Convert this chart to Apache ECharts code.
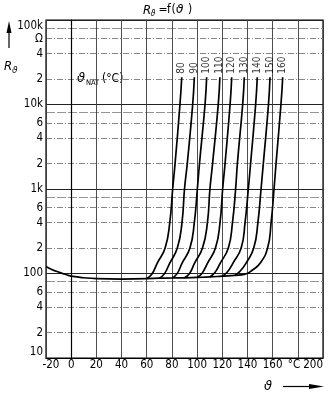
<!DOCTYPE html>
<html>
<head>
<meta charset="utf-8">
<script src="https://cdn.jsdelivr.net/npm/echarts@6/dist/echarts.min.js"></script>
<style>
  html, body { margin: 0; padding: 0; background: #fff; }
  #chart { width: 331px; height: 393px; }
</style>
</head>
<body>
<div id="chart"></div>
<script>
const FONT = "'Liberation Sans Narrow', 'DejaVu Sans Condensed', sans-serif";
const GREEK = "'DejaVu Sans', 'Noto Sans', sans-serif";

// temperature axis, °C (the 180 slot carries the unit)
const xTickValues = [-20, 0, 20, 40, 60, 80, 100, 120, 140, 160, 180, 200];
const xTickText = ['-20', '0', '20', '40', '60', '80', '100', '120', '140', '160', '', '200'];
const xUnitText = '°C';

// resistance axis, Ω (logarithmic)
const yDecadeValues = [10, 100, 1000, 10000, 100000];
const yMinorValues = [20, 40, 60, 200, 400, 600, 2000, 4000, 6000, 20000, 40000, 60000];
const yEighthValues = [80, 800, 8000, 80000];
const yLabelValues = [10, 20, 40, 60, 100, 200, 400, 600, 1000, 2000, 4000, 6000,
                      10000, 20000, 40000, 60000, 100000];
const yLabelText = ['10', '2', '4', '6', '100', '2', '4', '6', '1k', '2', '4', '6',
                    '10k', '2', '4', 'Ω', '100k'];

// shared low-temperature branch [ϑ °C, R Ω]
const baseCurve = [[-20, 121], [-15, 111], [-10, 104], [-5, 98], [0, 93], [5, 91], [10, 89],
                   [20, 87], [40, 86], [60, 87]];

// nominal switching temperatures ϑNAT, °C
const natTemps = [80, 90, 100, 110, 120, 130, 140, 150, 160];

// R(ϑ) per ϑNAT [ϑ °C, R Ω]
const curve80  = [[60, 87], [64, 98], [68.3, 132], [74.6, 200], [78.3, 400], [80.6, 1000], [82.5, 2000], [86.4, 10000], [87.8, 21000]];
const curve90  = [[70, 88], [74, 99], [78.2, 132], [84.3, 200], [88.0, 400], [90.0, 1000], [92.2, 2000], [96.5, 10000], [97.8, 21000]];
const curve100 = [[80, 88.5], [84, 99], [88.0, 132], [94.3, 200], [97.8, 400], [100.2, 1000], [101.9, 2000], [106.3, 10000], [107.6, 21000]];
const curve110 = [[90, 89], [94, 100], [97.9, 132], [104.3, 200], [108.2, 400], [110.2, 1000], [112.3, 2000], [116.8, 10000], [118.1, 21000]];
const curve120 = [[100, 90], [104, 101], [108.2, 132], [114.6, 200], [118.2, 400], [120.3, 1000], [122.2, 2000], [126.2, 10000], [127.5, 21000]];
const curve130 = [[110, 91], [114, 102], [118.3, 132], [124.8, 200], [128.1, 400], [130.6, 1000], [132.0, 2000], [136.2, 10000], [137.5, 21000]];
const curve140 = [[120, 93], [124, 104], [128.4, 132], [135.0, 200], [138.1, 400], [140.7, 1000], [142.5, 2000], [146.5, 10000], [147.8, 21000]];
const curve150 = [[130, 95], [134, 106], [138.8, 132], [145.0, 200], [148.3, 400], [150.8, 1000], [152.6, 2000], [156.7, 10000], [157.9, 21000]];
const curve160 = [[60, 87], [70, 88], [80, 88.5], [90, 89], [100, 90], [110, 91], [120, 93], [130, 95], [138, 98],
                  [144, 110], [150, 132], [156.0, 200], [158.8, 400], [161.1, 1000], [162.7, 2000], [166.6, 10000], [168.0, 21000]];

const curves = [curve80, curve90, curve100, curve110, curve120, curve130, curve140, curve150, curve160];

function yLabel(v) {
  const i = yLabelValues.findIndex(t => Math.abs(t - v) / t < 1e-4);
  return i < 0 ? '' : yLabelText[i];
}

function xLabel(v) {
  const i = xTickValues.indexOf(Math.round(v));
  if (i < 0) return '';
  return i === 0 ? '{first|' + xTickText[i] + '}' : xTickText[i];
}

const lineStyle = { color: '#000', width: 1.7 };

const series = [{
  type: 'line', data: baseCurve, showSymbol: false, smooth: 0.5,
  lineStyle, silent: true, z: 5
}];
curves.forEach((c, k) => {
  series.push({
    type: 'line', name: String(natTemps[k]), data: c, showSymbol: false,
    smooth: 0.5, lineStyle, silent: true, z: 5
  });
});
// curve captions standing on top of each curve end
series.push({
  type: 'scatter', symbol: 'circle', symbolSize: 1, silent: true, z: 6,
  itemStyle: { color: 'rgba(0,0,0,0)' },
  data: curves.map((c, k) => ({ value: c[c.length - 1], name: String(natTemps[k]) })),
  label: {
    show: true, position: 'top', distance: 3, rotate: 90,
    align: 'left', verticalAlign: 'middle',
    formatter: p => p.name, color: '#000', fontSize: 10, fontFamily: FONT
  }
});

const axisLabelBase = { color: '#000', fontSize: 11.5, fontFamily: FONT };

function gridAxis(values, lineStyle) {
  return {
    type: 'log', logBase: 10, min: 10, max: 100000, position: 'left',
    axisLine: { show: false }, axisLabel: { show: false },
    axisTick: { show: false, customValues: values },
    splitLine: { show: true, lineStyle }
  };
}

const option = {
  animation: false,
  grid: { left: 46, right: 8, top: 20, bottom: 35, show: true, borderColor: '#000', borderWidth: 1.2, backgroundColor: 'transparent' },
  xAxis: {
    type: 'value', min: -20, max: 200, interval: 20,
    axisLine: { show: true, lineStyle: { color: '#000', width: 1.2 } },
    axisTick: { show: false },
    splitLine: { show: true, lineStyle: { color: '#3a3a3a', width: 0.9 } },
    axisLabel: Object.assign({}, axisLabelBase, {
      margin: 1, formatter: xLabel, alignMaxLabel: 'right',
      showMinLabel: true, showMaxLabel: true, hideOverlap: false,
      rich: { first: Object.assign({}, axisLabelBase, { padding: [0, 0, 0, 10] }) }
    })
  },
  yAxis: [{
    type: 'log', logBase: 10, min: 10, max: 100000,
    axisLine: { show: true, lineStyle: { color: '#000', width: 1.2 } },
    axisTick: { show: false, customValues: yMinorValues },
    splitLine: { show: true, lineStyle: { color: '#777', width: 0.9, type: [6, 2, 1, 2] } },
    axisLabel: Object.assign({}, axisLabelBase, {
      margin: 3, customValues: yLabelValues, formatter: yLabel,
      showMinLabel: true, showMaxLabel: true, hideOverlap: false,
      verticalAlignMinLabel: 'bottom', verticalAlignMaxLabel: 'top'
    })
  },
  gridAxis(yDecadeValues, { color: '#222', width: 1 }),
  gridAxis(yEighthValues, { color: '#888', width: 0.9, type: [9, 2] })
  ],
  graphic: [
    // title  Rϑ = f(ϑ)
    { type: 'text', left: 143, top: 4, style: { text: 'R', font: 'italic 13px ' + FONT, fill: '#000' } },
    { type: 'text', left: 150.5, top: 10, style: { text: 'ϑ', font: 'italic 8px ' + GREEK, fill: '#000' } },
    { type: 'text', left: 158.5, top: 4, style: { text: '=', font: '12px ' + FONT, fill: '#000' } },
    { type: 'text', left: 167, top: 4, style: { text: 'f', font: '12px ' + FONT, fill: '#000' } },
    { type: 'text', left: 171.5, top: 4, style: { text: '(', font: '12px ' + FONT, fill: '#000' } },
    { type: 'text', left: 176, top: 4, style: { text: 'ϑ', font: 'italic 12px ' + GREEK, fill: '#000' } },
    { type: 'text', left: 188, top: 4, style: { text: ')', font: '12px ' + FONT, fill: '#000' } },

    // vertical axis name with arrow
    { type: 'line', shape: { x1: 9, y1: 48, x2: 9, y2: 28 }, style: { stroke: '#000', lineWidth: 1.2 } },
    { type: 'polygon', shape: { points: [[6.5, 33], [11.5, 33], [9, 21]] }, style: { fill: '#000' } },
    { type: 'text', left: 4, top: 60, style: { text: 'R', font: 'italic 13px ' + FONT, fill: '#000' } },
    { type: 'text', left: 12, top: 66, style: { text: 'ϑ', font: 'italic 9px ' + GREEK, fill: '#000' } },

    // unit in the 180 °C label slot
    { type: 'text', style: { x: 294, y: 365.5, text: xUnitText, align: 'center', verticalAlign: 'middle', font: '11.5px ' + FONT, fill: '#000' } },

    // horizontal axis name with arrow
    { type: 'text', left: 264, top: 380, style: { text: 'ϑ', font: 'italic 13px ' + GREEK, fill: '#000' } },
    { type: 'line', shape: { x1: 283, y1: 386.5, x2: 312, y2: 386.5 }, style: { stroke: '#000', lineWidth: 1.2 } },
    { type: 'polygon', shape: { points: [[309, 384], [309, 389], [324, 386.5]] }, style: { fill: '#000' } },

    // parameter caption  ϑNAT (°C)
    { type: 'text', left: 77, top: 72, style: { text: 'ϑ', font: 'italic 13px ' + GREEK, fill: '#000' } },
    { type: 'text', left: 86, top: 79, style: { text: 'NAT', font: '7.5px ' + FONT, fill: '#000' } },
    { type: 'text', left: 102, top: 73, style: { text: '(°C)', font: '12px ' + FONT, fill: '#000' } }
  ],
  series
};

const chart = echarts.init(document.getElementById('chart'), null, { renderer: 'canvas' });
chart.setOption(option);
</script>
</body>
</html>
